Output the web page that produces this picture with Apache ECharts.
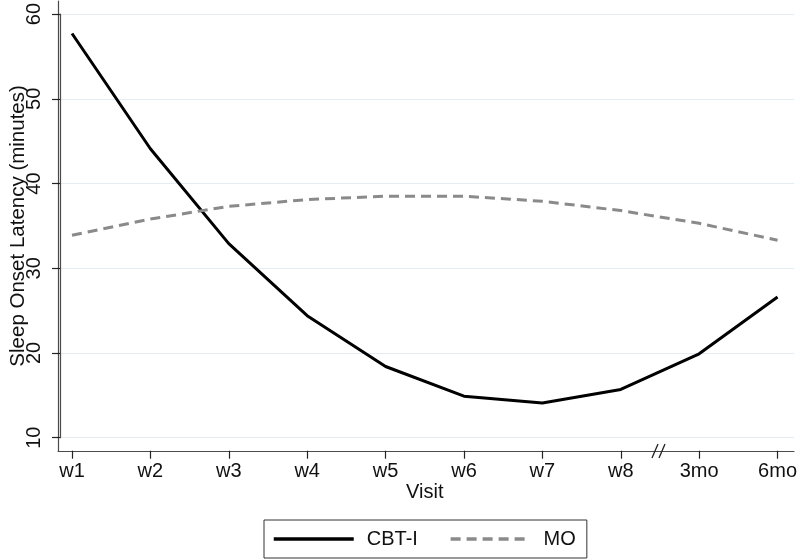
<!DOCTYPE html>
<html>
<head>
<meta charset="utf-8">
<script src="https://cdn.jsdelivr.net/npm/echarts@6/dist/echarts.min.js"></script>
<style>html,body{margin:0;padding:0;background:#fff}#c{width:800px;height:560px}</style>
</head>
<body>
<div id="c"></div>
<script>
const visits = ['w1','w2','w3','w4','w5','w6','w7','w8','3mo','6mo'];
const cbtI = [57.7, 44.1, 32.9, 24.4, 18.4, 14.9, 14.1, 15.7, 19.9, 26.6];
const mo   = [33.9, 35.8, 37.3, 38.1, 38.5, 38.5, 37.9, 36.8, 35.3, 33.3];
const yTicks = [10, 20, 30, 40, 50, 60];

const FONT = 'Liberation Sans';
const chart = echarts.init(document.getElementById('c'), null, {renderer: 'canvas'});
const txt = '#111';
const axisCol = '#4a4a4a';

chart.setOption({
  animation: false,
  backgroundColor: '#fff',
  textStyle: {fontFamily: FONT},
  grid: [
    {left: 58, right: 6, top: 14, bottom: 122.3},
    {left: 72, right: 21, top: 14, bottom: 122.3},
    {left: 58, right: 6, top: 1, bottom: 109}
  ],
  xAxis: [
    {gridIndex: 0, type: 'value', show: false, min: 0, max: 1},
    {gridIndex: 1, type: 'category', data: visits, boundaryGap: false, offset: 13,
     axisLine: {show: true, lineStyle: {color: 'rgba(0,0,0,0)'}},
     axisTick: {show: true, length: 8, lineStyle: {color: '#222', width: 1.2}},
     axisLabel: {color: txt, fontSize: 20, margin: 11, fontFamily: FONT},
     name: 'Visit', nameLocation: 'middle', nameGap: 32, nameMoveOverlap: false,
     nameTextStyle: {color: txt, fontSize: 20, fontFamily: FONT},
     splitLine: {show: false}},
    {gridIndex: 2, type: 'value', min: 0, max: 1,
     axisLine: {show: true, lineStyle: {color: axisCol, width: 1.2}},
     axisTick: {show: false}, axisLabel: {show: false}, splitLine: {show: false}}
  ],
  yAxis: [
    {gridIndex: 0, type: 'value', min: yTicks[0], max: yTicks[yTicks.length-1], interval: 10,
     axisLine: {show: true, lineStyle: {color: axisCol, width: 1.2}},
     axisTick: {show: true, length: 8, lineStyle: {color: '#222', width: 1.2}},
     axisLabel: {color: txt, fontSize: 20, rotate: 90, margin: 16, fontFamily: FONT},
     splitLine: {show: true, lineStyle: {color: '#e3ecf0', width: 1.2}},
     name: 'Sleep Onset Latency (minutes)', nameLocation: 'middle', nameGap: 31, nameMoveOverlap: false,
     nameTextStyle: {color: txt, fontSize: 20.5, fontFamily: FONT}},
    {gridIndex: 1, type: 'value', min: yTicks[0], max: yTicks[yTicks.length-1], interval: 10, show: false},
    {gridIndex: 2, type: 'value', min: 0, max: 1,
     axisLine: {show: true, lineStyle: {color: axisCol, width: 1.2}},
     axisTick: {show: false}, axisLabel: {show: false}, splitLine: {show: false}}
  ],
  legend: {
    left: 264, top: 520,
    orient: 'horizontal',
    itemWidth: 80, itemHeight: 14, itemGap: 31,
    padding: [9, 11, 9, 8],
    borderColor: '#333', borderWidth: 1, borderRadius: 0,
    textStyle: {color: txt, fontSize: 20, fontFamily: FONT, padding: [0, 0, 0, 8]},
    itemStyle: {opacity: 0},
    lineStyle: {width: 3.5},
    data: ['CBT-I', 'MO']
  },
  series: [
    {name: 'CBT-I', type: 'line', xAxisIndex: 1, yAxisIndex: 1, data: cbtI,
     symbol: 'none', lineStyle: {color: '#000', width: 3}, itemStyle: {color: '#000'}},
    {name: 'MO', type: 'line', xAxisIndex: 1, yAxisIndex: 1, data: mo,
     symbol: 'none', lineStyle: {color: '#8a8a8a', width: 3, type: [10, 6]}, itemStyle: {color: '#8a8a8a'}}
  ],
  graphic: [
    {type: 'line', shape: {x1: 652, y1: 458, x2: 658, y2: 444}, style: {stroke: '#222', lineWidth: 1.3}, z: 100},
    {type: 'line', shape: {x1: 659, y1: 458, x2: 665, y2: 444}, style: {stroke: '#222', lineWidth: 1.3}, z: 100}
  ]
});
</script>
</body>
</html>
